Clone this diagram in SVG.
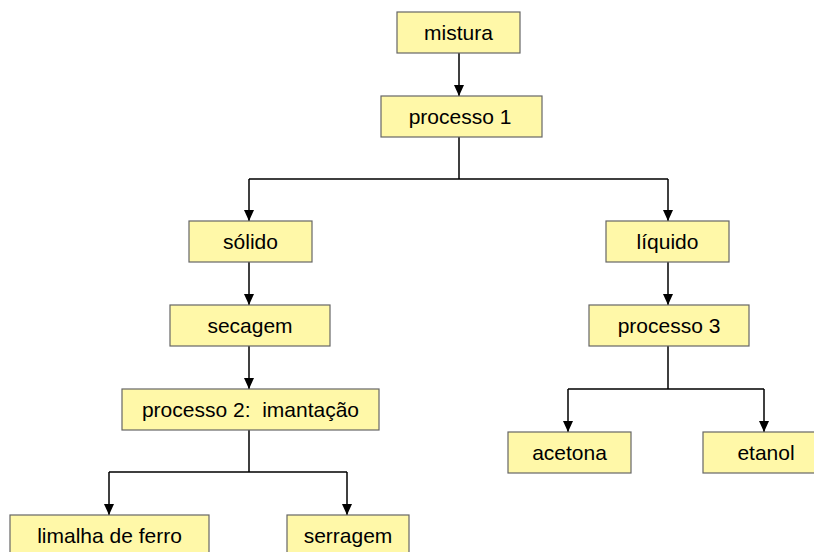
<svg xmlns="http://www.w3.org/2000/svg" width="814" height="552" viewBox="0 0 814 552">
<style>
.box{fill:#FFF8A8;stroke:#666666;stroke-width:1.2}
.lbl{font-family:"Liberation Sans",Arial,sans-serif;font-size:21px;fill:#000;text-anchor:middle}
.con{fill:none;stroke:#000;stroke-width:1.5}
</style>
<defs>
<marker id="arr" viewBox="0 0 11 10" refX="11" refY="5" markerWidth="11" markerHeight="10" markerUnits="userSpaceOnUse" orient="auto">
<path d="M0 0 L11 5 L0 10 Z" fill="#000"/>
</marker>
</defs>
<rect width="814" height="552" fill="#fff"/>
<g id="connectors">
<path class="con" d="M459 53 V96" marker-end="url(#arr)"/>
<path class="con" d="M459 137 V179 M249 179 H668"/>
<path class="con" d="M249 179 V221" marker-end="url(#arr)"/>
<path class="con" d="M668 179 V221" marker-end="url(#arr)"/>
<path class="con" d="M249 262 V305" marker-end="url(#arr)"/>
<path class="con" d="M668 262 V305" marker-end="url(#arr)"/>
<path class="con" d="M249 346 V389" marker-end="url(#arr)"/>
<path class="con" d="M249 430 V472 M109 472 H347"/>
<path class="con" d="M109 472 V515" marker-end="url(#arr)"/>
<path class="con" d="M347 472 V515" marker-end="url(#arr)"/>
<path class="con" d="M668 346 V389 M568 389 H764"/>
<path class="con" d="M568 389 V432" marker-end="url(#arr)"/>
<path class="con" d="M764 389 V432" marker-end="url(#arr)"/>
</g>
<g id="mistura"><rect class="box" x="397" y="12" width="123" height="41"/><text class="lbl" x="458.5" y="40">mistura</text></g>
<g id="processo1"><rect class="box" x="381" y="96" width="161" height="41"/><text class="lbl" x="460" y="124">processo 1</text></g>
<g id="solido"><rect class="box" x="189" y="221" width="123" height="41"/><text class="lbl" x="250.5" y="249">sólido</text></g>
<g id="liquido"><rect class="box" x="606" y="221" width="123" height="41"/><text class="lbl" x="667.5" y="249">líquido</text></g>
<g id="secagem"><rect class="box" x="170" y="305" width="160" height="41"/><text class="lbl" x="250" y="333">secagem</text></g>
<g id="processo3"><rect class="box" x="589" y="305" width="160" height="41"/><text class="lbl" x="669" y="333">processo 3</text></g>
<g id="processo2"><rect class="box" x="122" y="389" width="257" height="41"/><text class="lbl" x="250.5" y="417" xml:space="preserve">processo 2:  imantação</text></g>
<g id="acetona"><rect class="box" x="508" y="432" width="123" height="41"/><text class="lbl" x="569.5" y="460">acetona</text></g>
<g id="etanol"><rect class="box" x="703" y="432" width="126" height="41"/><text class="lbl" x="766" y="460">etanol</text></g>
<g id="limalha"><rect class="box" x="10" y="515" width="199" height="41"/><text class="lbl" x="109.5" y="543">limalha de ferro</text></g>
<g id="serragem"><rect class="box" x="287" y="515" width="122" height="41"/><text class="lbl" x="348" y="543">serragem</text></g>
</svg>
